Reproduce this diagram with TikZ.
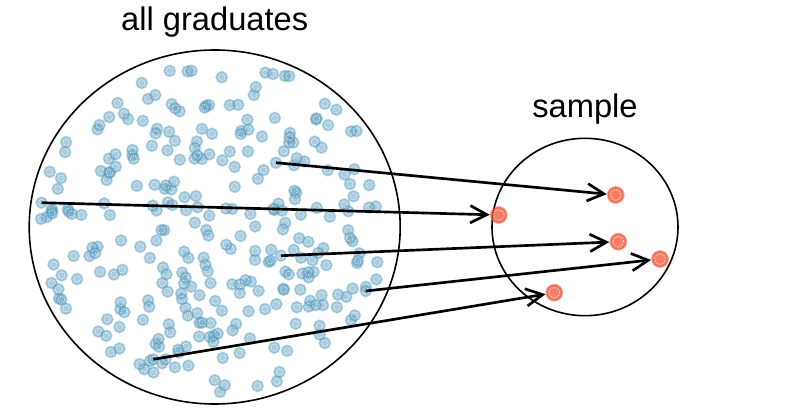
\documentclass[tikz,border=0pt]{standalone}
\usepackage{fontspec}
\setmainfont{Liberation Sans}
\usepackage{tikz}
\usetikzlibrary{arrows.meta}
\usetikzlibrary{positioning}
\definecolor{gradblue}{HTML}{569BBD}
\definecolor{samplered}{HTML}{F05133}

\begin{document}
\begin{tikzpicture}[x=0.75pt, y=-0.75pt,
    grad/.style={circle, inner sep=0pt, minimum size=8.4pt, fill=gradblue, fill opacity=0.5, draw=gradblue, draw opacity=0.35, line width=1.2pt,
        path picture={\draw[white, opacity=0.9, line width=0.4pt, dash pattern=on 1pt off 0.9pt] (path picture bounding box.center) circle (2.5pt);}},
    picked/.style={circle, inner sep=0pt, minimum size=12pt, fill=samplered, fill opacity=0.75, draw=samplered, draw opacity=0.45, line width=1.4pt,
        path picture={\draw[white, opacity=0.9, line width=0.45pt, dash pattern=on 1.2pt off 1pt] (path picture bounding box.center) circle (4pt);}},
    pick/.style={-{Straight Barb[length=12.5pt, width=13pt]}, line width=2pt},
    title/.style={font=\fontsize{24.5}{29}\selectfont, anchor=base, inner sep=0pt}]
    \useasboundingbox (0,0) rectangle (800,420);

    \node[title] (all) at (214.7,31) {all graduates};
    \node[title] (smp) at (585,118) {sample};

    \draw[line width=1.2pt] (214.7,227) ellipse [x radius=185.5, y radius=177];
    \draw[line width=1.2pt] (585,227) ellipse [x radius=93, y radius=88.7];

    \pgfmathsetseed{31}
    \foreach \i in {1,...,295}{
        \pgfmathsetmacro\r{sqrt(rnd)}
        \pgfmathsetmacro\a{360*rnd}
        \node[grad] (g\i) at ({214.7+175*\r*cos(\a)}, {227+167*\r*sin(\a)}) {};
    }

    \node[grad] (1) at (276,162.7) {};
    \node[grad] (2) at (41.7,202.7) {};
    \node[grad] (3) at (281,255.7) {};
    \node[grad] (4) at (365.7,291) {};
    \node[grad] (5) at (153.3,359.3) {};

    \node[picked] (s1) at (615.7,195) {};
    \node[picked] (s2) at (498.7,215) {};
    \node[picked] (s3) at (618.3,241.7) {};
    \node[picked] (s4) at (660,259) {};
    \node[picked] (s5) at (554.3,292.7) {};

    \draw[pick] (1.center) -- (s1);
    \draw[pick] (2.center) -- (s2);
    \draw[pick] (3.center) -- (s3);
    \draw[pick] (4.center) -- (s4);
    \draw[pick] (5.center) -- (s5);
\end{tikzpicture}
\end{document}
